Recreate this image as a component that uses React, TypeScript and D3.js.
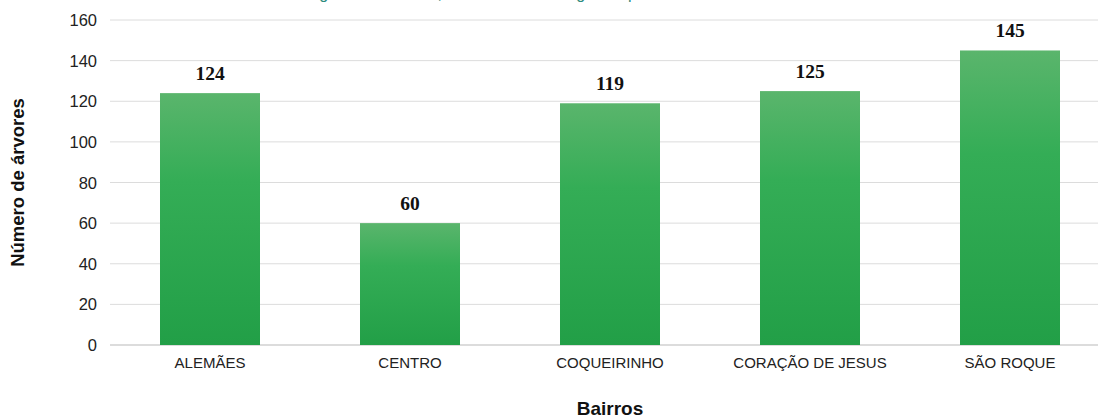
import React from "react";
import * as d3 from "d3";

const categories = ["ALEMÃES", "CENTRO", "COQUEIRINHO", "CORAÇÃO DE JESUS", "SÃO ROQUE"];
const values = [124, 60, 119, 125, 145];
const yTicks = [0, 20, 40, 60, 80, 100, 120, 140, 160];
const titleText = "Figura 4 – Árvores, número total de registros por bairro";

const W = 1098;
const H = 420;

export default function App() {
  const x = d3.scaleBand<string>().domain(categories).range([110, 1110]).paddingInner(0.5).paddingOuter(0.25);
  const y = d3.scaleLinear().domain([0, 160]).range([345, 20]);
  return (
    <svg width={W} height={H} style={{ position: "absolute", left: 0, top: 0, background: "#fff" }}>
      <defs>
        <linearGradient id="barGrad" x1="0" y1="0" x2="0" y2="1">
          <stop offset="0%" stopColor="#5ab56c" />
          <stop offset="35%" stopColor="#34ad56" />
          <stop offset="100%" stopColor="#229f47" />
        </linearGradient>
      </defs>
      <text x={306} y={-1} textAnchor="start" fontFamily="Liberation Sans, Arial, sans-serif" fontSize={16} fill="#2e8b7d">
        {titleText}
      </text>
      {yTicks.map((t) => (
        <g key={t}>
          <line x1={110} x2={W} y1={y(t)} y2={y(t)} stroke={t === 0 ? "#d0d0d0" : "#dcdcdc"} strokeWidth={t === 0 ? 1.5 : 1} />
          <text x={97} y={y(t) + 6} textAnchor="end" fontFamily="Liberation Sans, Arial, sans-serif" fontSize={16.5} fill="#222">
            {t}
          </text>
        </g>
      ))}
      {categories.map((c, i) => {
        const bx = x(c)!;
        const bw = x.bandwidth();
        const top = y(values[i]);
        return (
          <g key={c}>
            <rect x={bx} y={top} width={bw} height={y(0) - top} fill="url(#barGrad)" />
            <text x={bx + bw / 2} y={top - 13} textAnchor="middle" fontFamily="Liberation Serif, Times New Roman, serif" fontWeight="bold" fontSize={19.5} fill="#111">
              {values[i]}
            </text>
            <text x={bx + bw / 2} y={368} textAnchor="middle" fontFamily="Liberation Sans, Arial, sans-serif" fontSize={15} fill="#222">
              {c}
            </text>
          </g>
        );
      })}
      <text
        transform={`translate(24, ${y(80)}) rotate(-90)`}
        textAnchor="middle"
        fontFamily="Liberation Sans, Arial, sans-serif"
        fontWeight="bold"
        fontSize={18.5}
        fill="#111"
      >
        Número de árvores
      </text>
      <text x={610} y={415} textAnchor="middle" fontFamily="Liberation Sans, Arial, sans-serif" fontWeight="bold" fontSize={19} fill="#111">
        Bairros
      </text>
    </svg>
  );
}
